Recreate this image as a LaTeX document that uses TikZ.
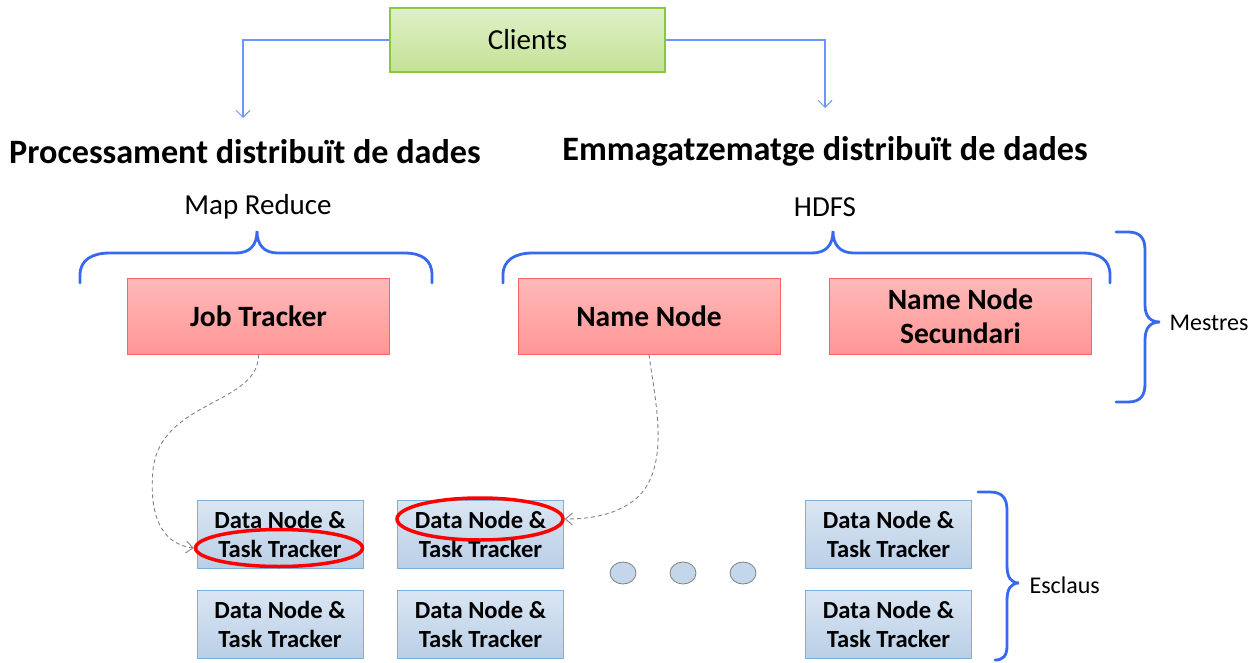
\documentclass[tikz,border=0pt]{standalone}
\usepackage{fontspec}
\setmainfont{Carlito}
\usetikzlibrary{arrows.meta,calc,shapes.geometric}
\definecolor{braceblue}{RGB}{55,105,240}
\definecolor{connblue}{RGB}{110,150,250}
\definecolor{greenborder}{RGB}{140,198,63}
\definecolor{greentop}{RGB}{222,240,200}
\definecolor{greenbot}{RGB}{196,226,150}
\definecolor{redborder}{RGB}{250,100,100}
\definecolor{redtop}{RGB}{255,185,185}
\definecolor{redbot}{RGB}{255,150,150}
\definecolor{bluetop}{RGB}{218,230,243}
\definecolor{bluebot}{RGB}{186,207,230}
\definecolor{blueborder}{RGB}{125,175,222}
\definecolor{dashgray}{RGB}{130,130,130}
\tikzset{
  clientbox/.style={draw=greenborder, line width=2pt, shading=axis, top color=greentop, bottom color=greenbot,
    minimum width=275pt, minimum height=64pt, inner sep=0pt, font=\fontsize{29}{34}\selectfont},
  masterbox/.style={draw=redborder, line width=1pt, shading=axis, top color=redtop, bottom color=redbot,
    minimum width=262pt, minimum height=76pt, inner sep=0pt, align=center,
    font=\fontsize{29.5}{34}\selectfont\bfseries},
  slavebox/.style={draw=blueborder, line width=1pt, shading=axis, top color=bluetop, bottom color=bluebot,
    minimum width=166pt, minimum height=68pt, inner sep=0pt, align=center,
    font=\fontsize{24.6}{29}\selectfont\bfseries},
  dotnode/.style={draw=gray, line width=0.8pt, fill=bluebot!85!white, ellipse, minimum width=26pt, minimum height=22pt, inner sep=0pt},
  redring/.style={draw=red, line width=3.5pt, ellipse, inner sep=0pt},
  brace/.style={draw=braceblue, line width=2.8pt, line cap=round},
  conn/.style={draw=connblue, line width=1.1pt, -{Straight Barb[length=7pt,width=14pt,line width=1pt]}},
  dashconn/.style={draw=dashgray, line width=0.9pt, dash pattern=on 4pt off 3pt, -{Straight Barb[length=7pt,width=12pt,line width=0.9pt]}},
  title/.style={font=\fontsize{34.2}{38}\selectfont\bfseries},
  label/.style={font=\fontsize{29}{32}\selectfont},
  sidelabel/.style={font=\fontsize{24}{28}\selectfont, anchor=west},
}
\begin{document}
\begin{tikzpicture}[x=1pt,y=-1pt]
\useasboundingbox (0,0) rectangle (1260,663);
% Clients
\node[clientbox] (cl) at (527.5,40) {Clients};
\coordinate (ca1) at (243,118);
\coordinate (ca2) at (825,108);
\draw[conn] (cl.west) -| (ca1);
\draw[conn] (cl.east) -| (ca2);
% titles
\node[title] (t1) at (245,152) {Processament distribuït de dades};
\node[title] (t2) at (825,151) {Emmagatzematge distribuït de dades};
\node[label] (mr) at (258,207) {Map Reduce};
\node[label] (hd) at (825,207) {HDFS};
% braces over groups
\draw[brace] (80,283) -- (80,275) .. controls (80,260) and (92,253) .. (110,253) -- (236,253)
  .. controls (250,253) and (257,245) .. (257,231) .. controls (257,245) and (264,253) .. (278,253)
  -- (404,253) .. controls (422,253) and (432,260) .. (432,275) -- (432,283);
\draw[brace] (503,283) -- (503,275) .. controls (503,260) and (515,253) .. (533,253) -- (812,253)
  .. controls (826,253) and (833,245) .. (833,231) .. controls (833,245) and (840,253) .. (854,253)
  -- (1082,253) .. controls (1100,253) and (1110,260) .. (1110,275) -- (1110,283);
% master nodes
\node[masterbox] (jt) at (258.5,316) {Job Tracker};
\node[masterbox] (nn) at (649,316) {Name Node};
\node[masterbox] (ns) at (960.5,316) {Name Node\\Secundari};
% Mestres brace
\draw[brace] (1116,232) -- (1128,232) .. controls (1140,232) and (1145,238) .. (1145,250) -- (1145,305)
  .. controls (1145,316) and (1150,322) .. (1160,322) .. controls (1150,322) and (1145,328) .. (1145,340)
  -- (1145,384) .. controls (1145,396) and (1140,402) .. (1128,402) -- (1116,402);
\node[sidelabel] (me) at (1166,323) {Mestres};
% slave nodes
\node[slavebox] (d1) at (280,534) {Data Node \&\\Task Tracker};
\node[slavebox] (d2) at (480.5,534) {Data Node \&\\Task Tracker};
\node[slavebox] (d3) at (280,624) {Data Node \&\\Task Tracker};
\node[slavebox] (d4) at (480.5,624) {Data Node \&\\Task Tracker};
\node[slavebox] (d5) at (888.5,534) {Data Node \&\\Task Tracker};
\node[slavebox] (d6) at (888.5,624) {Data Node \&\\Task Tracker};
% dots
\node[dotnode] (o1) at (623,573) {};
\node[dotnode] (o2) at (683,573) {};
\node[dotnode] (o3) at (743,573) {};
% Esclaus brace
\draw[brace] (978,492) -- (990,492) .. controls (1002,492) and (1007,498) .. (1007,510) -- (1007,566)
  .. controls (1007,577) and (1011,583) .. (1019,583) .. controls (1011,583) and (1007,589) .. (1007,600)
  -- (1007,646) .. controls (1007,656) and (1003,660) .. (995,660);
\node[sidelabel] (es) at (1026,585) {Esclaus};
% red rings
\node[redring, minimum width=167pt, minimum height=37pt] (e1) at (279,548) {};
\node[redring, minimum width=166pt, minimum height=42pt] (e2) at (480,519) {};
% dashed connectors
\draw[dashconn] (jt.south) .. controls (259,405) and (160,400) .. (153,470)
  .. controls (148,525) and (168,545) .. (e1.west);
\draw[dashconn] (nn.south) .. controls (655,400) and (670,462) .. (640,495)
  .. controls (620,515) and (590,519) .. (e2.east);
\end{tikzpicture}
\end{document}
